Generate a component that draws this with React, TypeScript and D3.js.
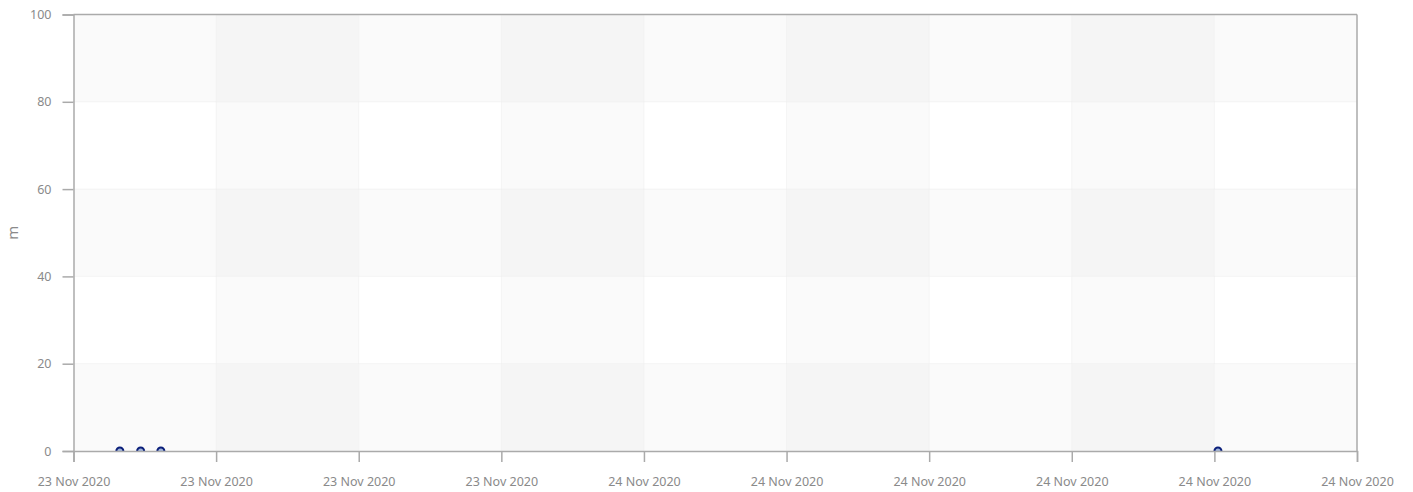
import React, { useEffect, useRef } from "react";
import * as d3 from "d3";

// observation times (all values 0 m)
const times = ["2020-11-23T09:18", "2020-11-23T09:53", "2020-11-23T10:27", "2020-11-24T16:06"];
const values = [0, 0, 0, 0];
const yTicks = [0, 20, 40, 60, 80, 100];
const xStart = "2020-11-23T08:00";
const xEnd = "2020-11-24T20:00";
const yLabel = "m";

const W = 1413;
const H = 492;

const App: React.FC = () => {
  const ref = useRef<SVGSVGElement | null>(null);

  useEffect(() => {
    if (!ref.current) return;
    const margin = { top: 14.5, right: 56, bottom: 41, left: 73.5 };
    const iw = W - margin.left - margin.right;
    const ih = H - margin.top - margin.bottom;

    const svg = d3.select(ref.current);
    svg.selectAll("*").remove();
    const g = svg.append("g").attr("transform", `translate(${margin.left},${margin.top})`);

    const x = d3.scaleTime().domain([new Date(xStart), new Date(xEnd)]).range([0, iw]);
    const y = d3.scaleLinear().domain([0, 100]).range([ih, 0]);
    const xTicks = d3.timeHour.every(4)!.range(new Date(xStart), d3.timeMinute.offset(new Date(xEnd), 1));

    // checkerboard background bands
    for (let i = 0; i < xTicks.length - 1; i++) {
      for (let j = 0; j < yTicks.length - 1; j++) {
        const colShade = i % 2 === 1 ? 1 : 0;
        const rowShade = j % 2 === 0 ? 1 : 0;
        const n = colShade + rowShade;
        if (n === 0) continue;
        g.append("rect")
          .attr("x", x(xTicks[i]))
          .attr("y", y(yTicks[j + 1]))
          .attr("width", x(xTicks[i + 1]) - x(xTicks[i]))
          .attr("height", y(yTicks[j]) - y(yTicks[j + 1]))
          .attr("fill", n === 2 ? "#f5f5f5" : "#fafafa");
      }
    }

    // grid lines
    g.selectAll(".vgrid")
      .data(xTicks.slice(1, -1))
      .enter()
      .append("line")
      .attr("x1", (d) => x(d))
      .attr("x2", (d) => x(d))
      .attr("y1", 0)
      .attr("y2", ih)
      .attr("stroke", "#ececec")
      .attr("stroke-dasharray", "1,1");
    g.selectAll(".hgrid")
      .data(yTicks.slice(1, -1))
      .enter()
      .append("line")
      .attr("x1", 0)
      .attr("x2", iw)
      .attr("y1", (d) => y(d))
      .attr("y2", (d) => y(d))
      .attr("stroke", "#ececec")
      .attr("stroke-dasharray", "1,1");

    // frame
    g.append("line").attr("x1", 0).attr("x2", iw).attr("y1", 0).attr("y2", 0).attr("stroke", "#aaa").attr("stroke-width", 1.5);
    g.append("line").attr("x1", iw).attr("x2", iw).attr("y1", 0).attr("y2", ih).attr("stroke", "#aaa").attr("stroke-width", 1.5);

    // points, clipped to plot area
    g.append("clipPath").attr("id", "plotclip").append("rect").attr("width", iw).attr("height", ih);
    g.append("g")
      .attr("clip-path", "url(#plotclip)")
      .selectAll("circle")
      .data(times.map((t, i) => ({ t: new Date(t), v: values[i] })))
      .enter()
      .append("circle")
      .attr("cx", (d) => x(d.t))
      .attr("cy", (d) => y(d.v))
      .attr("r", 3.5)
      .attr("fill", "#9fb3d9")
      .attr("stroke", "#0b1f7a")
      .attr("stroke-width", 2);

    const font = "'Noto Sans', 'Open Sans', sans-serif";

    // x axis
    const xa = g
      .append("g")
      .attr("transform", `translate(0,${ih})`)
      .call(
        d3.axisBottom(x)
          .tickValues(xTicks)
          .tickSize(11)
          .tickPadding(15)
          .tickFormat((d) => d3.timeFormat("%d %b %Y")(d as Date))
      );
    xa.select(".domain").attr("stroke", "#aaa").attr("stroke-width", 1.5);
    xa.selectAll(".tick line").attr("stroke", "#aaa").attr("stroke-width", 1.5);
    xa.selectAll(".tick text").attr("fill", "#8a8a8a").style("font-family", font).style("font-size", "12.5px");

    // y axis
    const ya = g
      .append("g")
      .call(d3.axisLeft(y).tickValues(yTicks).tickSize(11).tickPadding(11));
    ya.select(".domain").attr("stroke", "#aaa").attr("stroke-width", 1.5);
    ya.selectAll(".tick line").attr("stroke", "#aaa").attr("stroke-width", 1.5);
    ya.selectAll(".tick text").attr("fill", "#8a8a8a").style("font-family", font).style("font-size", "12.5px");

    svg.append("text")
      .attr("transform", `translate(18,${margin.top + ih / 2}) rotate(-90)`)
      .attr("text-anchor", "middle")
      .attr("fill", "#8a8a8a")
      .style("font-family", font)
      .style("font-size", "15px")
      .text(yLabel);
  }, []);

  return (
    <svg
      ref={ref}
      width={W}
      height={H}
      style={{ position: "absolute", left: 0, top: 0, background: "#fff" }}
    />
  );
};

export default App;
